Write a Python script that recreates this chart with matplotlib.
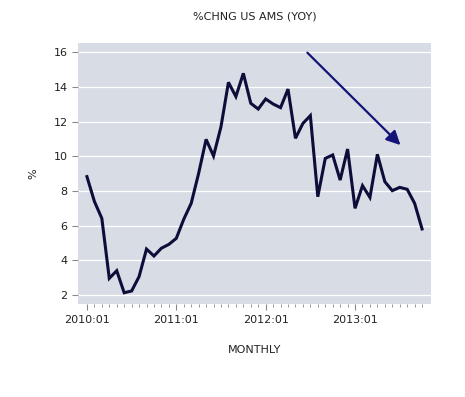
import numpy as np
import matplotlib
matplotlib.use('Agg')
import matplotlib.pyplot as plt

# monthly YoY % change, 2010:01 .. 2013:10
values = [8.83, 7.4, 6.42, 2.96, 3.4, 2.13, 2.23, 3.06, 4.65, 4.25,
          4.7, 4.92, 5.27, 6.37, 7.29, 9.02, 10.98, 10.02, 11.71, 14.27,
          13.45, 14.79, 13.06, 12.73, 13.31, 13.02, 12.81, 13.88, 11.04, 11.9,
          12.35, 7.67, 9.88, 10.08, 8.63, 10.42, 7.0, 8.31, 7.63, 10.12,
          8.54, 8.02, 8.21, 8.1, 7.29, 5.81]
year_labels = ['2010:01', '2011:01', '2012:01', '2013:01']
y_ticks = [2, 4, 6, 8, 10, 12, 14, 16]
# trend arrow (month index, value)
arrow_start = (29.6, 15.98)
arrow_end = (42.1, 10.65)

months = np.arange(len(values))

fig = plt.figure(figsize=(4.65, 3.97), dpi=100)
ax = fig.add_axes([78 / 465, 1 - 304 / 397, (431 - 78) / 465, (304 - 43) / 397])
ax.set_facecolor('#d8dce5')

for y in y_ticks:
    ax.axhline(y, color='white', linewidth=0.9, zorder=1)

ax.plot(months, values, color='#0d0d3a', linewidth=2.2, zorder=3,
        solid_joinstyle='miter')

ax.annotate('', xy=arrow_end, xytext=arrow_start,
            arrowprops=dict(arrowstyle='-|>,head_length=0.6,head_width=0.3',
                            color='#141478', lw=1.6,
                            mutation_scale=14, shrinkA=0, shrinkB=0),
            zorder=4)

ax.set_xlim(-1.2, 46.2)
ax.set_ylim(1.48, 16.54)

ax.set_xticks(np.arange(0, 48, 12))
ax.set_xticklabels(year_labels)
ax.set_xticks(np.arange(0, 46), minor=True)
ax.set_yticks(y_ticks)

for s in ax.spines.values():
    s.set_visible(False)

ax.tick_params(axis='both', which='major', length=4, color='#888888',
               labelsize=8, labelcolor='#222222', width=0.8)
ax.tick_params(axis='x', which='minor', length=2.5, color='#888888', width=0.6)
ax.tick_params(axis='x', which='major', pad=4)

ax.set_title('%CHNG US AMS (YOY)', fontsize=8, color='#222222', pad=17)
ax.set_xlabel('MONTHLY', fontsize=8, color='#222222', labelpad=14)
ax.set_ylabel('%', fontsize=8, color='#222222', rotation=90, labelpad=11)

plt.savefig('out.png', dpi=100, facecolor='white')
plt.close()
